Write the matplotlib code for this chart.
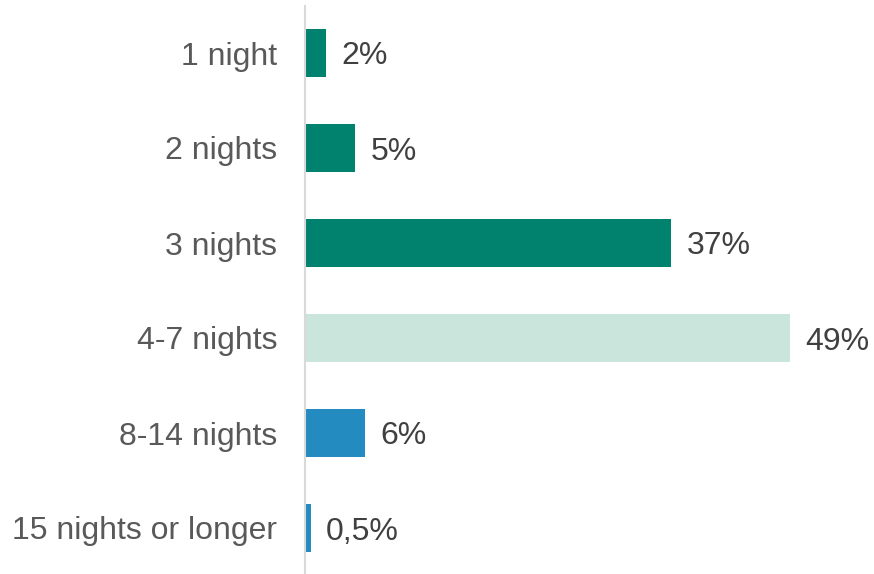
import matplotlib
matplotlib.use("Agg")
import matplotlib.pyplot as plt

categories = ["1 night", "2 nights", "3 nights", "4-7 nights", "8-14 nights", "15 nights or longer"]
values = [2, 5, 37, 49, 6, 0.5]
value_labels = ["2%", "5%", "37%", "49%", "6%", "0,5%"]
colors = ["#00826F", "#00826F", "#00826F", "#C9E5DC", "#238BBF", "#238BBF"]

plt.rcParams["font.family"] = ["Liberation Sans", "DejaVu Sans"]

fig = plt.figure(figsize=(8.74, 5.74), dpi=100)
ax = fig.add_axes([305 / 874, 0, 569 / 874, 568 / 574])

y = list(range(len(categories)))
bars = ax.barh(y, values, height=0.5, color=colors, left=0.1)

for bar, lab in zip(bars, value_labels):
    ax.annotate(lab, (bar.get_x() + bar.get_width(), bar.get_y() + bar.get_height() / 2),
                xytext=(11, 0), textcoords="offset points",
                ha="left", va="center_baseline", fontsize=23, color="#404040")

ax.set_xlim(0, 57.6)
ax.set_ylim(5 + 46 / 95, -(53 - 6) / 95)
ax.set_yticks(y)
ax.set_yticklabels(categories, fontsize=23, color="#595959", va="center_baseline")
ax.tick_params(axis="y", length=0, pad=20)
ax.set_xticks([])

for s in ["top", "right", "bottom"]:
    ax.spines[s].set_visible(False)
ax.spines["left"].set_color("#D9D9D9")
ax.spines["left"].set_linewidth(1.5)

fig.savefig("out.png", dpi=100)
